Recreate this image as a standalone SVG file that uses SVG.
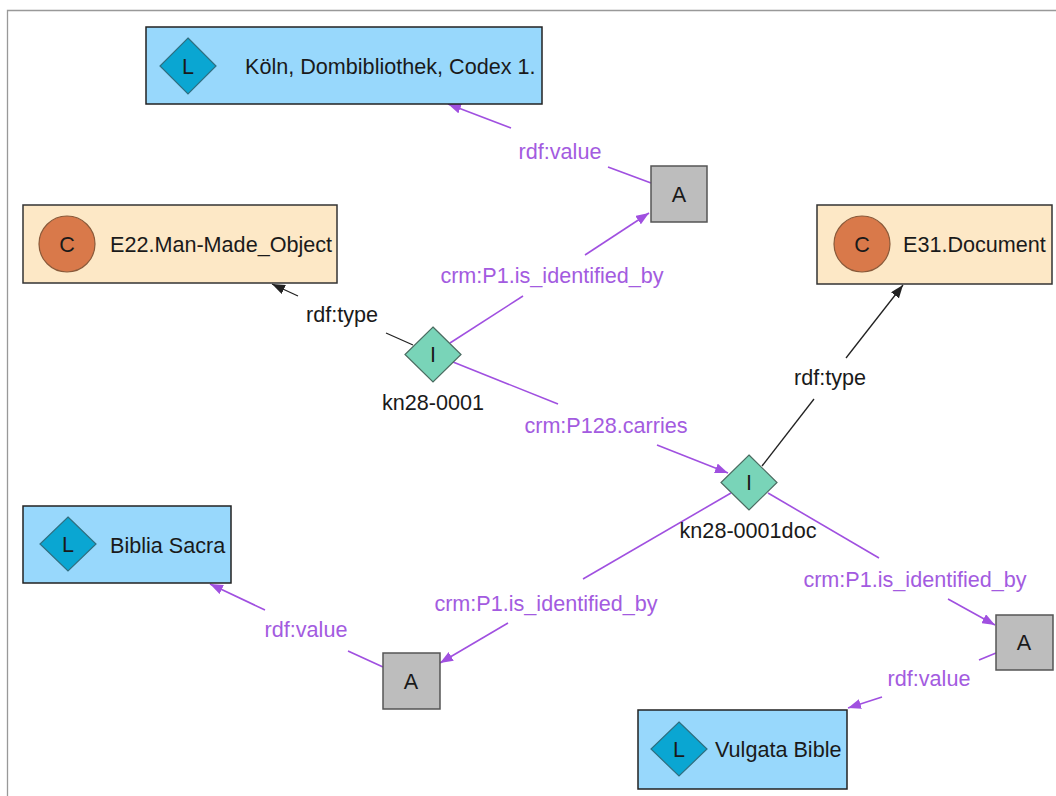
<svg xmlns="http://www.w3.org/2000/svg" width="1056" height="796" viewBox="0 0 1056 796">
<defs>
<style>
text{font-family:"Liberation Sans",Arial,sans-serif;font-size:21.6px;fill:#1a1a1a}
.lbl{fill:#a35be0}
.mid{text-anchor:middle}
.lit rect{fill:#98d8fc;stroke:#222;stroke-width:1.5}
.lit polygon{fill:#0aa6d2;stroke:#2f6f80;stroke-width:1.2}
.cls rect{fill:#fde8c6;stroke:#333;stroke-width:1.5}
.cls circle{fill:#d9794a;stroke:#8a5a3a;stroke-width:1.2}
.inst polygon{fill:#79d4b8;stroke:#4a6b60;stroke-width:1.2}
.anon rect{fill:#bdbdbd;stroke:#555;stroke-width:1.5}
.p{stroke:#a050e0;stroke-width:1.6;fill:none}
.k{stroke:#222;stroke-width:1.3;fill:none}
</style>
<marker id="ap" markerUnits="userSpaceOnUse" markerWidth="14" markerHeight="10" refX="13" refY="5" orient="auto"><path d="M0,0 L13,5 L0,10 z" fill="#a050e0"/></marker>
<marker id="ak" markerUnits="userSpaceOnUse" markerWidth="14" markerHeight="10" refX="13" refY="5" orient="auto"><path d="M0,0 L13,5 L0,10 z" fill="#222"/></marker>
</defs>
<rect width="1056" height="796" fill="#fff"/>
<path d="M7.5,796 V10.5 H1056" fill="none" stroke="#999" stroke-width="1.3"/>

<g id="connectors">
<path class="p" d="M450,343 L523,296"/>
<path class="p" d="M585,255 L649,213" marker-end="url(#ap)"/>
<text class="lbl mid" x="552" y="283">crm:P1.is_identified_by</text>
<path class="p" d="M651,183 L608,167"/>
<path class="p" d="M511,128 L448,104" marker-end="url(#ap)"/>
<text class="lbl mid" x="560" y="159">rdf:value</text>
<path class="k" d="M413,345 L386,333"/>
<path class="k" d="M298,296 L272,284" marker-end="url(#ak)"/>
<text class="mid" x="342" y="322">rdf:type</text>
<path class="p" d="M453,362 L558,404"/>
<path class="p" d="M657,445 L728,473" marker-end="url(#ap)"/>
<text class="lbl mid" x="606" y="433">crm:P128.carries</text>
<path class="k" d="M762,466 L814,399"/>
<path class="k" d="M846,358 L903,285" marker-end="url(#ak)"/>
<text class="mid" x="830" y="385">rdf:type</text>
<path class="p" d="M731,493 L583,579"/>
<path class="p" d="M508,623 L440,663" marker-end="url(#ap)"/>
<text class="lbl mid" x="546" y="611">crm:P1.is_identified_by</text>
<path class="p" d="M383,667 L348,651"/>
<path class="p" d="M265,610 L210,584" marker-end="url(#ap)"/>
<text class="lbl mid" x="306" y="637">rdf:value</text>
<path class="p" d="M768,493 L879,558"/>
<path class="p" d="M948,599 L995,625" marker-end="url(#ap)"/>
<text class="lbl mid" x="915" y="587">crm:P1.is_identified_by</text>
<path class="p" d="M996,653 L979,660"/>
<path class="p" d="M882,697 L848,708" marker-end="url(#ap)"/>
<text class="lbl mid" x="929" y="686">rdf:value</text>
</g>

<g id="lit-koeln" class="lit">
<rect x="146" y="27" width="396" height="77"/>
<polygon points="188,38 216,66 188,94 160,66"/>
<text class="mid" x="188" y="74">L</text>
<text x="245" y="74">Köln, Dombibliothek, Codex 1.</text>
</g>

<g id="cls-e22" class="cls">
<rect x="23" y="205" width="314" height="78"/>
<circle cx="67" cy="244" r="28"/>
<text class="mid" x="67" y="252">C</text>
<text x="110" y="252">E22.Man-Made_Object</text>
</g>

<g id="cls-e31" class="cls">
<rect x="817" y="205" width="235" height="79"/>
<circle cx="862" cy="244" r="28"/>
<text class="mid" x="862" y="252">C</text>
<text x="903" y="252">E31.Document</text>
</g>

<g id="anon-top" class="anon">
<rect x="651" y="166" width="56" height="56"/>
<text class="mid" x="679" y="202">A</text>
</g>

<g id="inst-kn28-0001" class="inst">
<polygon points="433,327 461,354.5 433,382 405,354.5"/>
<text class="mid" x="433" y="362">I</text>
<text class="mid" x="433" y="410">kn28-0001</text>
</g>

<g id="inst-kn28-0001doc" class="inst">
<polygon points="749,455 777,482.5 749,510 721,482.5"/>
<text class="mid" x="749" y="490">I</text>
<text class="mid" x="748" y="538">kn28-0001doc</text>
</g>

<g id="lit-biblia" class="lit">
<rect x="23" y="506" width="208" height="77"/>
<polygon points="68,517 96,544 68,571 40,544"/>
<text class="mid" x="68" y="552">L</text>
<text x="110" y="553">Biblia Sacra</text>
</g>

<g id="anon-bl" class="anon">
<rect x="383" y="653" width="57" height="56"/>
<text class="mid" x="411" y="689">A</text>
</g>

<g id="anon-right" class="anon">
<rect x="996" y="615" width="57" height="55"/>
<text class="mid" x="1024" y="650">A</text>
</g>

<g id="lit-vulgata" class="lit">
<rect x="638" y="710" width="209" height="79"/>
<polygon points="679,722 707,749 679,776 651,749"/>
<text class="mid" x="679" y="757">L</text>
<text x="715" y="757">Vulgata Bible</text>
</g>
</svg>
